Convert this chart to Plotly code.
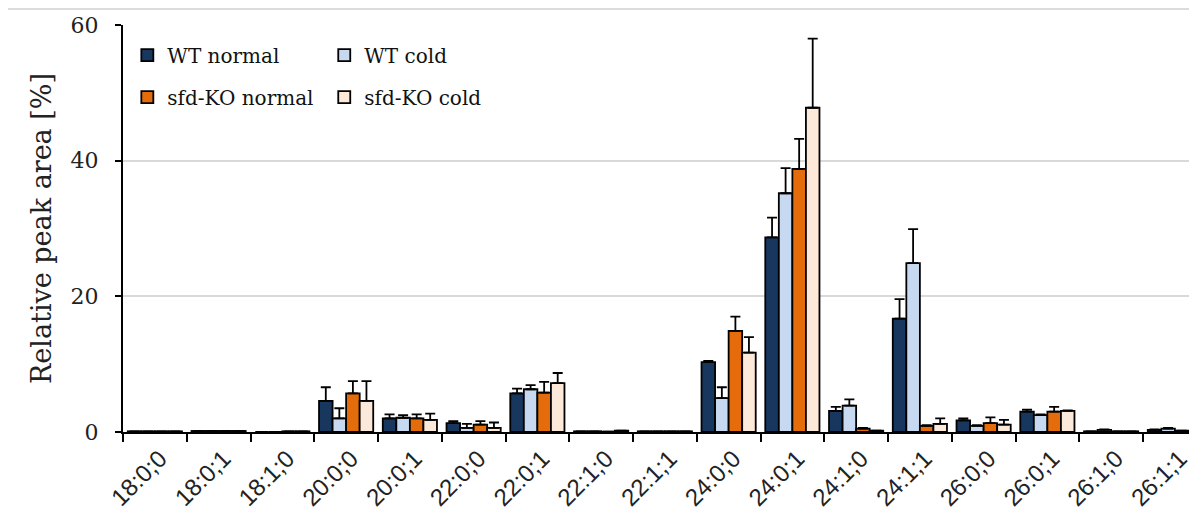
import plotly.graph_objects as go

categories = ["18:0;0", "18:0;1", "18:1;0", "20:0;0", "20:0;1", "22:0;0", "22:0;1",
              "22:1;0", "22:1;1", "24:0;0", "24:0;1", "24:1;0", "24:1;1", "26:0;0",
              "26:0;1", "26:1;0", "26:1;1"]

series_names = ["WT normal", "WT cold", "sfd-KO normal", "sfd-KO cold"]

wt_normal = [0.1, 0.15, 0.0, 4.6, 2.0, 1.3, 5.7, 0.1, 0.1, 10.3, 28.7, 3.1, 16.7, 1.7, 3.0, 0.1, 0.3]
wt_cold = [0.1, 0.15, 0.0, 2.0, 2.1, 0.6, 6.3, 0.1, 0.1, 5.0, 35.2, 3.9, 24.9, 0.9, 2.5, 0.3, 0.5]
ko_normal = [0.1, 0.15, 0.1, 5.7, 2.0, 1.1, 5.8, 0.05, 0.1, 14.9, 38.8, 0.5, 0.9, 1.3, 3.0, 0.1, 0.2]
ko_cold = [0.1, 0.15, 0.1, 4.6, 1.8, 0.6, 7.2, 0.2, 0.1, 11.7, 47.8, 0.2, 1.2, 1.1, 3.1, 0.1, 0.1]

wt_normal_err = [0, 0, 0, 2.0, 0.6, 0.3, 0.7, 0, 0, 0.2, 2.9, 0.6, 2.9, 0.3, 0.3, 0, 0.1]
wt_cold_err = [0, 0, 0, 1.5, 0.4, 0.6, 0.6, 0, 0, 1.6, 3.7, 0.9, 5.0, 0.1, 0.1, 0.1, 0.1]
ko_normal_err = [0, 0, 0, 1.8, 0.6, 0.5, 1.6, 0, 0, 2.1, 4.4, 0.1, 0.1, 0.85, 0.7, 0, 0]
ko_cold_err = [0, 0, 0, 2.9, 0.9, 0.8, 1.5, 0, 0, 2.3, 10.2, 0, 0.8, 0.7, 0.1, 0, 0]

colors = ["#17375e", "#c6d9f1", "#e46c0a", "#fde9d9"]

values = [wt_normal, wt_cold, ko_normal, ko_cold]
errors = [wt_normal_err, wt_cold_err, ko_normal_err, ko_cold_err]
legend_ids = ["legend", "legend2", "legend3", "legend4"]

fig = go.Figure()
for name, vals, errs, col, lg in zip(series_names, values, errors, colors, legend_ids):
    fig.add_trace(go.Bar(
        name=name, x=categories, y=vals, showlegend=True,
        marker=dict(color=col, line=dict(color="black", width=1.8)),
        error_y=dict(type="data", symmetric=False, array=errs,
                     arrayminus=[0] * len(errs), color="black",
                     thickness=1.8, width=5),
        legend=lg,
    ))

serif = "DejaVu Serif"
legend_common = dict(font=dict(family=serif, size=20, color="#111"),
                     bgcolor="rgba(0,0,0,0)", xanchor="left", yanchor="middle",
                     orientation="h", visible=True)

# page body has an 8px margin; compensate in the figure margins
L, T, B = 115, 17, 94
plot_w = 1197 - L
fig.update_layout(
    width=1197, height=518,
    margin=dict(l=L, r=0, t=T, b=B),
    paper_bgcolor="white", plot_bgcolor="white",
    showlegend=True,
    barmode="group", bargap=0.15, bargroupgap=0,
    legend=dict(x=0.004, y=0.926, **legend_common),
    legend2=dict(x=0.186, y=0.926, **legend_common),
    legend3=dict(x=0.004, y=0.823, **legend_common),
    legend4=dict(x=0.186, y=0.823, **legend_common),
    xaxis=dict(
        type="category", range=[-0.5, -0.5 + plot_w / 63.75], automargin=False,
        ticks="outside", tickson="boundaries", ticklen=8, tickwidth=2,
        tickcolor="black", showline=True, linecolor="black", linewidth=2,
        tickangle=-45, tickfont=dict(family="Liberation Sans", size=24, color="#222"),
        ticklabelshift=5, ticklabelstandoff=1,
        showgrid=False,
    ),
    yaxis=dict(
        range=[0, 60], tickvals=[0, 20, 40, 60], automargin=False,
        ticks="outside", ticklen=6, tickwidth=2, tickcolor="black",
        showline=True, linecolor="black", linewidth=2,
        gridcolor="#d9d9d9", gridwidth=2, zeroline=False,
        tickfont=dict(family=serif, size=22, color="#222"),
        ticklabelstandoff=12,
        title=dict(text="Relative peak area [%]",
                   font=dict(family=serif, size=27, color="#222"), standoff=11),
    ),
    shapes=[dict(type="line", xref="paper", yref="paper",
                 x0=-L / plot_w, x1=1, y0=1 + (T - 1) / 407, y1=1 + (T - 1) / 407,
                 line=dict(color="#d0d0d0", width=1.5))],
)

fig.write_html("out.html")
